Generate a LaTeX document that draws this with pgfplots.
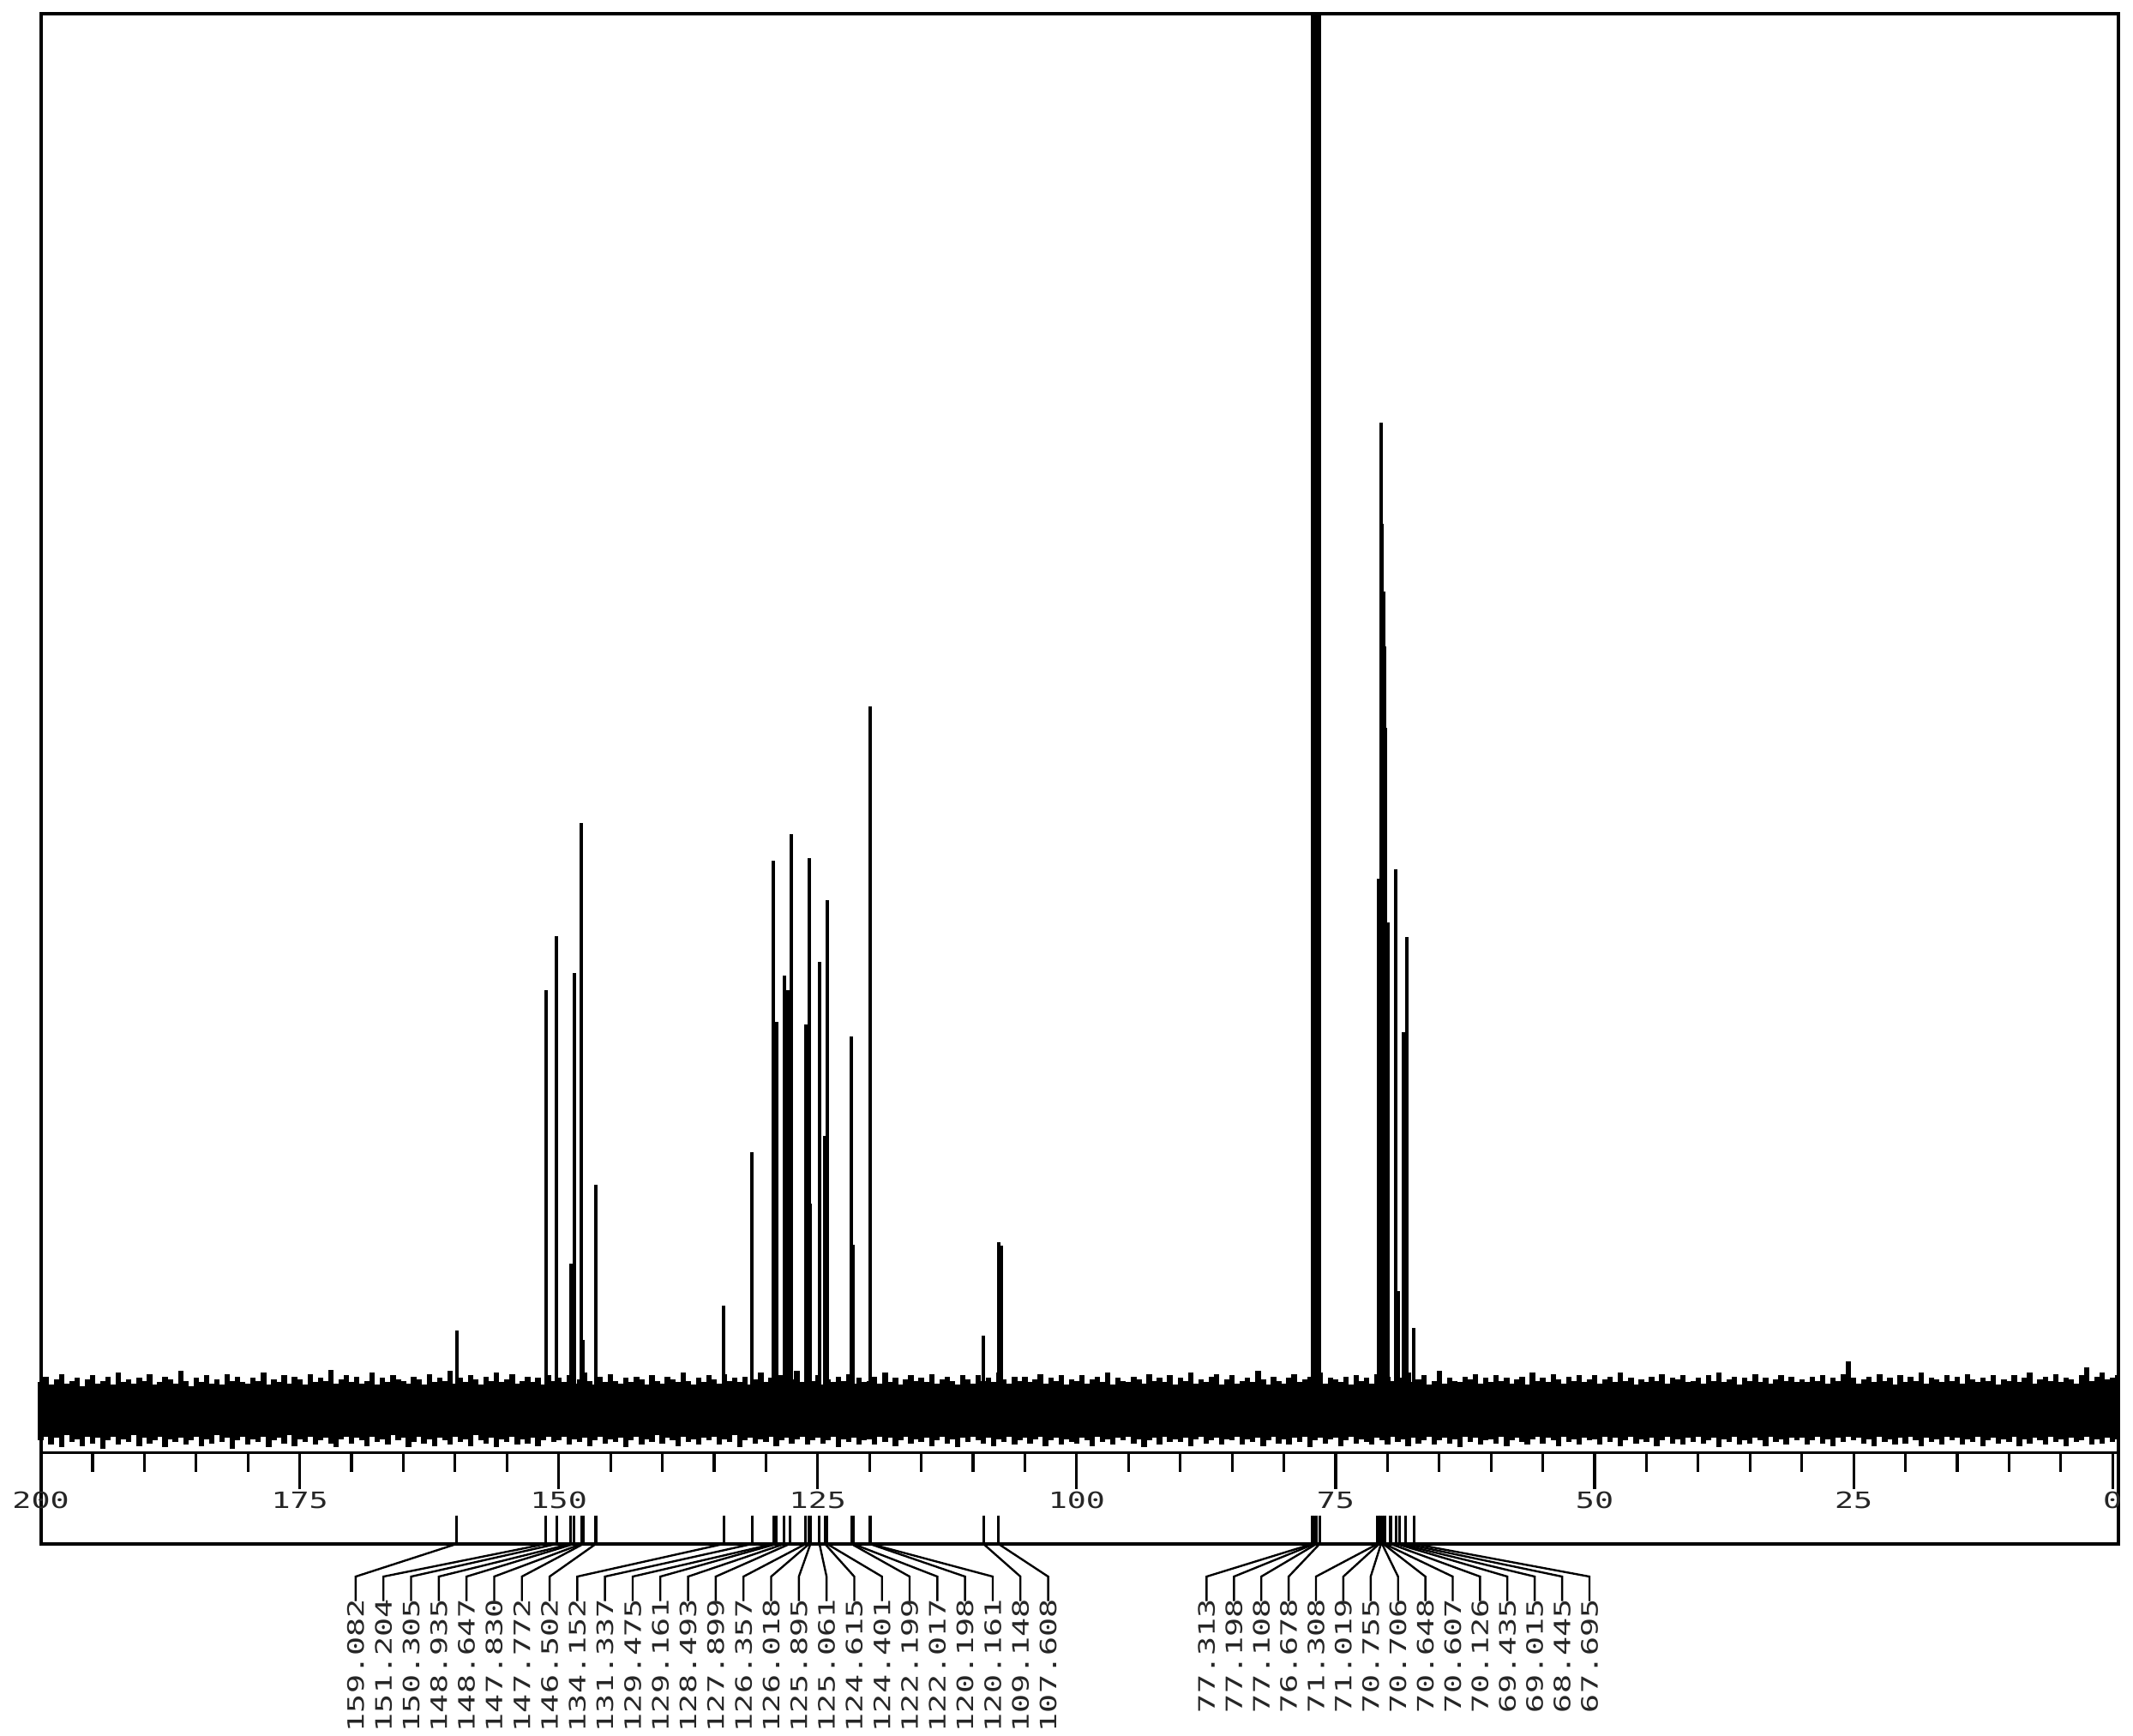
\documentclass[border=0pt]{standalone}
\usepackage{pgfplots}
\pgfplotsset{compat=1.18}
\usepackage{pgfplotstable}
\usepackage{graphicx}
\usepackage{fontspec}
\newfontfamily\pxfont{DejaVu Sans Mono}
\newcommand{\px}[1]{\scalebox{1.4}[1]{\pxfont\fontsize{4.7}{5.5}\selectfont #1}}

% noise band: top / bottom per 0.5 ppm step, 200 -> -0.5
\pgfplotstableread[row sep=\\]{
t b\\
19 -24\\ 23 -21\\ 17 -27\\ 21 -22\\ 25 -29\\ 18 -20\\ 20 -25\\ 22 -23\\ 16 -28\\ 21 -21\\
24 -26\\ 18 -22\\ 20 -30\\ 23 -24\\ 17 -21\\ 26 -27\\ 19 -23\\ 21 -25\\ 18 -20\\ 22 -28\\
20 -22\\ 25 -26\\ 17 -24\\ 19 -21\\ 23 -29\\ 21 -23\\ 18 -25\\ 27 -22\\ 20 -27\\ 16 -24\\
22 -21\\ 19 -28\\ 24 -23\\ 18 -26\\ 21 -20\\ 17 -25\\ 25 -22\\ 20 -30\\ 23 -24\\ 19 -21\\
18 -27\\ 22 -23\\ 20 -25\\ 26 -21\\ 17 -29\\ 21 -24\\ 19 -22\\ 24 -26\\ 18 -20\\ 23 -28\\
21 -23\\ 17 -25\\ 25 -21\\ 19 -27\\ 22 -24\\ 20 -22\\ 28 -26\\ 18 -29\\ 21 -23\\ 24 -21\\
19 -26\\ 23 -22\\ 18 -24\\ 20 -28\\ 26 -21\\ 17 -25\\ 22 -23\\ 19 -27\\ 24 -20\\ 21 -24\\
20 -22\\ 18 -29\\ 23 -25\\ 21 -21\\ 17 -26\\ 25 -23\\ 19 -28\\ 22 -22\\ 20 -24\\ 27 -27\\
18 -21\\ 22 -25\\ 19 -23\\ 24 -28\\ 21 -20\\ 17 -24\\ 23 -26\\ 20 -22\\ 26 -29\\ 19 -23\\
21 -25\\ 25 -21\\ 18 -27\\ 20 -23\\ 23 -26\\ 19 -22\\ 22 -28\\ 17 -24\\ 24 -21\\ 20 -25\\
22 -24\\ 19 -21\\ 24 -27\\ 18 -23\\ 21 -25\\ 26 -22\\ 20 -28\\ 17 -24\\ 23 -21\\ 19 -26\\
25 -23\\ 20 -25\\ 18 -22\\ 22 -29\\ 19 -24\\ 23 -21\\ 21 -27\\ 17 -23\\ 24 -25\\ 20 -20\\
18 -26\\ 23 -22\\ 21 -24\\ 19 -28\\ 26 -21\\ 20 -25\\ 17 -23\\ 22 -27\\ 19 -22\\ 24 -24\\
21 -21\\ 18 -27\\ 25 -23\\ 20 -25\\ 22 -20\\ 19 -29\\ 23 -24\\ 17 -22\\ 21 -26\\ 26 -23\\
19 -25\\ 22 -21\\ 20 -28\\ 24 -24\\ 18 -22\\ 21 -26\\ 27 -23\\ 19 -21\\ 23 -27\\ 20 -24\\
24 -22\\ 17 -26\\ 21 -24\\ 19 -21\\ 23 -29\\ 20 -23\\ 25 -25\\ 18 -22\\ 22 -27\\ 19 -24\\
20 -23\\ 23 -27\\ 18 -21\\ 26 -25\\ 19 -22\\ 22 -28\\ 17 -24\\ 21 -21\\ 24 -26\\ 20 -23\\
22 -25\\ 19 -22\\ 25 -28\\ 18 -24\\ 21 -21\\ 23 -26\\ 20 -23\\ 17 -29\\ 24 -22\\ 21 -25\\
18 -21\\ 24 -24\\ 20 -26\\ 22 -22\\ 19 -28\\ 26 -23\\ 21 -25\\ 18 -21\\ 23 -27\\ 20 -24\\
23 -22\\ 19 -26\\ 21 -23\\ 25 -21\\ 18 -28\\ 22 -24\\ 20 -22\\ 24 -27\\ 17 -23\\ 21 -25\\
20 -26\\ 24 -22\\ 18 -24\\ 21 -28\\ 23 -21\\ 19 -25\\ 26 -23\\ 17 -27\\ 22 -22\\ 20 -24\\
19 -21\\ 23 -26\\ 21 -23\\ 18 -29\\ 25 -24\\ 20 -22\\ 22 -27\\ 19 -21\\ 24 -25\\ 17 -23\\
22 -25\\ 20 -22\\ 26 -28\\ 18 -23\\ 21 -21\\ 19 -26\\ 23 -24\\ 25 -22\\ 17 -27\\ 21 -23\\
24 -24\\ 18 -21\\ 20 -27\\ 22 -23\\ 19 -25\\ 27 -22\\ 21 -28\\ 17 -24\\ 23 -21\\ 20 -26\\
18 -23\\ 22 -27\\ 25 -22\\ 19 -25\\ 21 -21\\ 23 -29\\ 20 -24\\ 26 -22\\ 18 -26\\ 22 -23\\
21 -22\\ 19 -28\\ 23 -24\\ 17 -21\\ 24 -26\\ 20 -23\\ 22 -25\\ 18 -27\\ 25 -22\\ 19 -24\\
23 -27\\ 20 -21\\ 18 -25\\ 22 -23\\ 26 -28\\ 19 -22\\ 21 -26\\ 24 -24\\ 17 -21\\ 20 -27\\
27 -24\\ 18 -22\\ 22 -26\\ 20 -23\\ 19 -29\\ 23 -21\\ 21 -25\\ 25 -22\\ 18 -27\\ 22 -24\\
19 -23\\ 24 -26\\ 20 -21\\ 22 -28\\ 18 -24\\ 21 -22\\ 23 -25\\ 17 -27\\ 26 -23\\ 20 -21\\
22 -26\\ 19 -22\\ 25 -24\\ 21 -28\\ 18 -21\\ 23 -25\\ 20 -23\\ 24 -27\\ 19 -22\\ 21 -24\\
24 -23\\ 18 -27\\ 21 -21\\ 23 -25\\ 19 -22\\ 26 -28\\ 20 -24\\ 22 -21\\ 17 -26\\ 21 -23\\
19 -25\\ 23 -22\\ 20 -28\\ 25 -24\\ 18 -21\\ 22 -26\\ 21 -23\\ 24 -27\\ 19 -22\\ 20 -25\\
22 -21\\ 18 -26\\ 24 -24\\ 20 -22\\ 26 -29\\ 19 -23\\ 21 -25\\ 23 -21\\ 17 -27\\ 22 -24\\
20 -26\\ 25 -22\\ 19 -24\\ 22 -28\\ 18 -21\\ 21 -25\\ 24 -23\\ 20 -27\\ 23 -22\\ 19 -24\\
21 -22\\ 19 -27\\ 23 -24\\ 20 -21\\ 24 -26\\ 18 -23\\ 22 -28\\ 20 -22\\ 25 -25\\ 34 -21\\
22 -24\\ 18 -22\\ 21 -26\\ 23 -23\\ 19 -28\\ 25 -21\\ 20 -25\\ 22 -23\\ 17 -27\\ 24 -22\\
19 -26\\ 23 -21\\ 20 -24\\ 26 -28\\ 18 -22\\ 22 -25\\ 21 -23\\ 19 -27\\ 24 -21\\ 20 -24\\
23 -22\\ 18 -27\\ 25 -23\\ 21 -25\\ 19 -21\\ 22 -28\\ 20 -24\\ 24 -22\\ 17 -26\\ 21 -23\\
20 -25\\ 24 -21\\ 19 -28\\ 22 -23\\ 26 -26\\ 18 -22\\ 21 -24\\ 23 -27\\ 20 -21\\ 25 -25\\
19 -23\\ 22 -28\\ 21 -22\\ 18 -25\\ 24 -24\\ 30 -21\\ 20 -27\\ 23 -23\\ 26 -26\\ 21 -22\\
22 -25\\ 24 -23\\
}\noise

\pgfplotstableread{
x h
159.86 57
151.25 307
150.20 347
148.85 106
148.52 320
147.80 430
147.62 50
146.42 164
134.08 75
131.32 188
129.27 402
128.97 284
128.22 318
127.87 307
127.54 422
126.16 282
125.83 404
125.70 150
124.83 328
124.30 200
124.10 373
121.75 273
121.58 120
119.97 516
119.90 60
109.00 53
107.55 122
107.29 119
77.25 1025
77.05 1025
76.85 1025
76.55 1025
70.88 389
70.62 724
70.52 650
70.40 600
70.30 560
70.20 500
69.93 357
69.21 396
68.95 86
68.50 276
68.16 346
67.43 59
}\peaks

% marker at the peak, leader to the label slot, rotated label
\newcommand{\lbl}[3]{%
  \draw[line width=0.2mm] (axis cs:#1,-79) -- (axis cs:#1,-100);
  \draw[line width=0.15mm] (axis cs:#1,-100) -- (axis cs:#2,-124) -- (axis cs:#2,-142);
  \node[rotate=90, anchor=east, inner sep=0pt, text=black!85] at (axis cs:#2,-140) {\px{#3}};}

\begin{document}
\begin{tikzpicture}
\begin{axis}[
    name=ax,
    scale only axis,
    width=152.7mm, height=112.5mm,
    x dir=reverse,
    xmin=-0.525, xmax=200,
    ymin=-100, ymax=1025,
    ticks=none,
    clip=false,
    axis line style={line width=0.25mm},
]
\addplot[ycomb, black, line width=0.4mm] table[x expr={200-0.5*\coordindex}, y=t] {\noise};
\addplot[ycomb, black, line width=0.4mm] table[x expr={200-0.5*\coordindex}, y=b] {\noise};
\addplot[ycomb, black, line width=0.25mm] table[x=x, y=h] {\peaks};

% ppm scale
\draw[line width=0.2mm] (axis cs:200,-33) -- (axis cs:-0.525,-33);
\pgfplotsinvokeforeach{0,5,...,200}{\draw[line width=0.2mm] (axis cs:#1,-33) -- (axis cs:#1,-47);}
\pgfplotsinvokeforeach{0,25,...,200}{%
  \draw[line width=0.2mm] (axis cs:#1,-33) -- (axis cs:#1,-60);
  \node[inner sep=0pt, text=black!85] at (axis cs:#1,-68) {\px{#1}};}

% peak labels
\lbl{159.86}{169.599}{159.082}
\lbl{151.25}{166.925}{151.204}
\lbl{150.20}{164.252}{150.305}
\lbl{148.85}{161.578}{148.935}
\lbl{148.52}{158.904}{148.647}
\lbl{147.80}{156.231}{147.830}
\lbl{147.62}{153.557}{147.772}
\lbl{146.42}{150.883}{146.502}
\lbl{134.08}{148.210}{134.152}
\lbl{131.32}{145.536}{131.337}
\lbl{129.27}{142.862}{129.475}
\lbl{128.97}{140.188}{129.161}
\lbl{128.22}{137.515}{128.493}
\lbl{127.70}{134.841}{127.899}
\lbl{126.16}{132.167}{126.357}
\lbl{125.83}{129.494}{126.018}
\lbl{125.70}{126.820}{125.895}
\lbl{124.83}{124.146}{125.061}
\lbl{124.30}{121.472}{124.615}
\lbl{124.10}{118.799}{124.401}
\lbl{121.75}{116.125}{122.199}
\lbl{121.58}{113.451}{122.017}
\lbl{119.97}{110.778}{120.198}
\lbl{119.90}{108.104}{120.161}
\lbl{109.00}{105.430}{109.148}
\lbl{107.55}{102.757}{107.608}
\lbl{77.25}{87.459}{77.313}
\lbl{77.05}{84.819}{77.198}
\lbl{76.85}{82.180}{77.108}
\lbl{76.55}{79.540}{76.678}
\lbl{70.95}{76.901}{71.308}
\lbl{70.80}{74.261}{71.019}
\lbl{70.62}{71.621}{70.755}
\lbl{70.52}{68.982}{70.706}
\lbl{70.40}{66.342}{70.648}
\lbl{70.28}{63.703}{70.607}
\lbl{69.70}{61.063}{70.126}
\lbl{69.15}{58.423}{69.435}
\lbl{68.85}{55.784}{69.015}
\lbl{68.25}{53.144}{68.445}
\lbl{67.43}{50.505}{67.695}
\end{axis}
\pgfresetboundingbox
\path ([shift={(-3mm,-14.1mm)}]ax.south west) rectangle ([shift={(1.1mm,1mm)}]ax.north east);
\end{tikzpicture}
\end{document}
